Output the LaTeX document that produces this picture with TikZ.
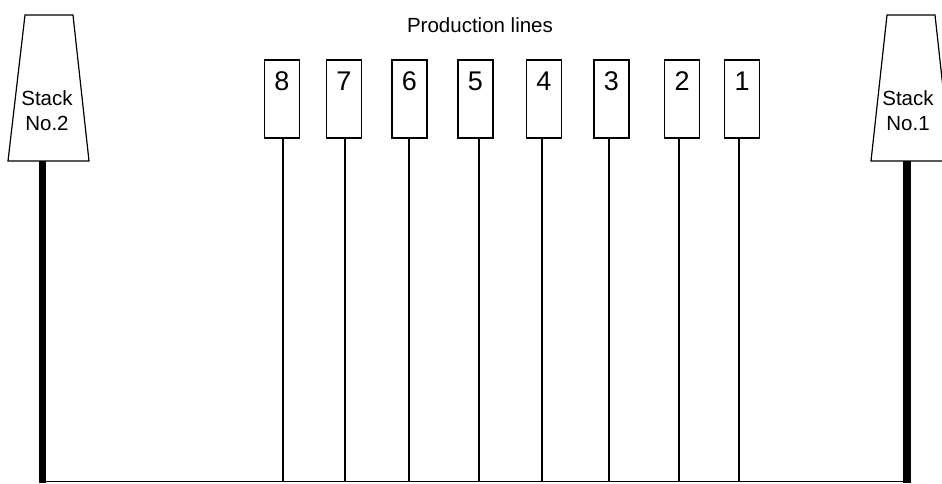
\documentclass[tikz,border=0pt]{standalone}
\usepackage{fontspec}
\setmainfont{Liberation Sans}
\begin{document}
\begin{tikzpicture}[x=1pt,y=-1pt,
  linebox/.style={draw=black,line width=1.6pt,fill=white,minimum width=35pt,minimum height=78pt,inner sep=0pt,anchor=north},
  digit/.style={font=\fontsize{27}{27}\selectfont,anchor=base,inner sep=0pt},
  stacktxt/.style={font=\fontsize{20.5}{25}\selectfont,align=center,inner sep=0pt,anchor=base},
  stackshape/.style={draw=black,line width=1.2pt,fill=white},
  pole/.style={line width=7.5pt},
  feeder/.style={line width=1.2pt}]
\clip (0,0) rectangle (942,483);
\fill[white] (0,0) rectangle (942,483);
% title
\node[stacktxt] (title) at (480,32) {Production lines};
% stacks
\draw[stackshape] (25,15) -- (73,15) -- (89,161) -- (8,161) -- cycle;
\draw[stackshape] (887,15) -- (935,15) -- (951,161) -- (871,161) -- cycle;
\node[stacktxt] (s2) at (47,105) {Stack};
\node[stacktxt] (s2b) at (47,130) {No.2};
\node[stacktxt] (s1) at (908,105) {Stack};
\node[stacktxt] (s1b) at (908,130) {No.1};
\coordinate (p2top) at (42.5,161);
\coordinate (p2bot) at (42.5,483);
\coordinate (p1top) at (907,161);
\coordinate (p1bot) at (907,483);
\draw[pole] (p2top) -- (p2bot);
\draw[pole] (p1top) -- (p1bot);
% bottom main line
\coordinate (busL) at (42.5,481.5);
\coordinate (busR) at (907,481.5);
\draw[feeder] (busL) -- (busR);
% production line boxes
\foreach \n/\cx/\lx in {8/282/283, 7/344/345, 6/409.5/409, 5/475.5/479, 4/544/542, 3/611.5/609, 2/682/679, 1/742/739}{
  \node[linebox] (b\n) at (\cx,59) {};
  \node[digit] (d\n) at (\cx,90) {\n};
  \coordinate (f\n) at (\lx,481.5);
  \draw[feeder] (\lx,137) -- (f\n);
}
\end{tikzpicture}
\end{document}
